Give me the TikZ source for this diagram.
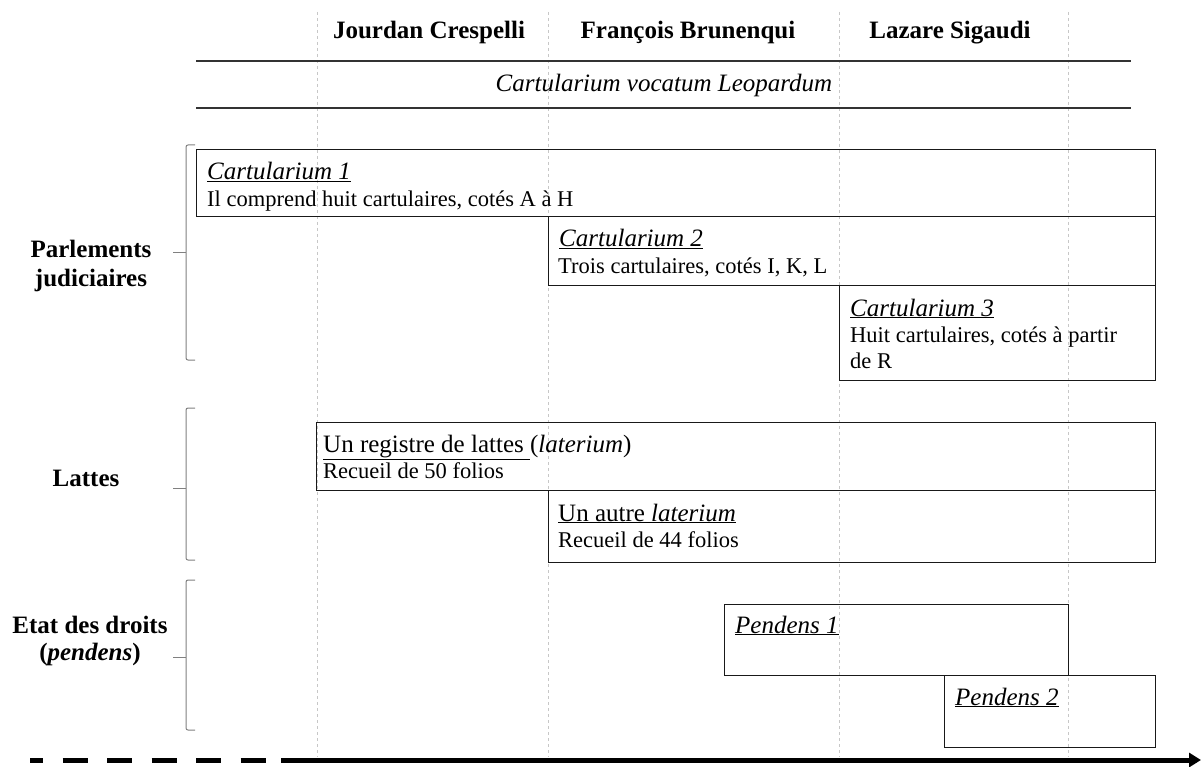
\documentclass[tikz,border=0pt]{standalone}
\usepackage{fontspec}
\setmainfont{Liberation Serif}
\usetikzlibrary{arrows.meta}
\tikzset{
  grid/.style={draw=black!22, line width=1pt, dash pattern=on 3pt off 3pt},
  rule/.style={draw=black!80, line width=1.5pt},
  box/.style={draw=black!90, line width=1.3pt, inner sep=0pt, anchor=north west},
  brk/.style={draw=black!50, line width=1pt, rounded corners=2pt},
  hdr/.style={font=\fontsize{25}{29}\selectfont\bfseries, inner sep=0pt, anchor=base},
  lbl/.style={font=\fontsize{25}{29}\selectfont\bfseries, inner sep=0pt, anchor=base},
  ttl/.style={font=\fontsize{25}{29}\selectfont\itshape, inner sep=0pt, anchor=base west},
  txt/.style={font=\fontsize{22.5}{26}\selectfont, inner sep=0pt, anchor=base west},
}
\begin{document}
\begin{tikzpicture}[x=1pt,y=-1pt]
\useasboundingbox (0,0) rectangle (1201,767);
% grid lines
\foreach \gx/\gn in {317/ga,548/gb,839/gc,1068/gd}{
  \coordinate (\gn top) at (\gx,12);
  \coordinate (\gn bot) at (\gx,757);
  \draw[grid] (\gn top) -- (\gn bot);
}
% boxes
\node[box, minimum width=959pt, minimum height=67pt] (c1) at (196,149) {};
\node[box, minimum width=607pt, minimum height=69pt] (c2) at (548,216) {};
\node[box, minimum width=316pt, minimum height=95pt] (c3) at (839,285) {};
\node[box, minimum width=839pt, minimum height=68pt] (l1) at (316,422) {};
\node[box, minimum width=607pt, minimum height=72pt] (l2) at (548,490) {};
\node[box, minimum width=344pt, minimum height=71pt] (p1) at (724,604) {};
\node[box, minimum width=211pt, minimum height=72pt] (p2) at (944,675) {};
% header
\node[hdr] (h1) at (429,39) {Jourdan Crespelli};
\node[hdr] (h2) at (688,39) {François Brunenqui};
\node[hdr] (h3) at (950,39) {Lazare Sigaudi};
\coordinate (r1a) at (196,61); \coordinate (r1b) at (1131,61);
\coordinate (r2a) at (196,108); \coordinate (r2b) at (1131,108);
\draw[rule] (r1a) -- (r1b);
\draw[rule] (r2a) -- (r2b);
\node[font=\fontsize{25}{29}\selectfont\itshape, inner sep=0pt, anchor=base] (leo) at (664,92) {Cartularium vocatum Leopardum};
% box texts
\node[ttl] (c1t) at (207,180) {\underline{Cartularium 1}};
\node[txt] (c1b) at (207,207) {Il comprend huit cartulaires, cotés A à H};
\node[ttl] (c2t) at (559,247) {\underline{Cartularium 2}};
\node[txt] (c2b) at (558,273) {Trois cartulaires, cotés I, K, L};
\node[ttl] (c3t) at (850,316) {\underline{Cartularium 3}};
\node[txt] (c3b) at (850,342) {Huit cartulaires, cotés à partir};
\node[txt] (c3c) at (850,368) {de R};
\node[txt, font=\fontsize{25}{29}\selectfont] (l1t) at (323,452) {\underline{Un registre de lattes }(\textit{laterium})};
\node[txt] (l1b) at (323,478) {Recueil de 50 folios};
\node[txt, font=\fontsize{25}{29}\selectfont] (l2t) at (558,521) {\underline{Un autre \textit{laterium}}};
\node[txt] (l2b) at (558,547) {Recueil de 44 folios};
\node[ttl] (p1t) at (735,633) {\underline{Pendens 1}};
\node[ttl] (p2t) at (955,705) {\underline{Pendens 2}};
% brackets
\draw[brk] (195,145) -- (186,145) -- (186,360) -- (195,360);
\draw[brk] (186,253) -- (173,253);
\draw[brk] (195,408) -- (186,408) -- (186,560) -- (195,560);
\draw[brk] (186,488) -- (173,488);
\draw[brk] (195,580) -- (186,580) -- (186,730) -- (195,730);
\draw[brk] (186,657) -- (173,657);
% labels
\node[lbl] (pj1) at (91,258) {Parlements};
\node[lbl] (pj2) at (91,286) {judiciaires};
\node[lbl] (lat) at (86,486) {Lattes};
\node[lbl] (ed1) at (90,633) {Etat des droits};
\node[lbl] (ed2) at (90,660) {(\textit{pendens})};
% time arrow
\coordinate (a0) at (30,760);
\coordinate (a1) at (281,760);
\coordinate (a2) at (1201,760);
\draw[line width=5pt, dash pattern=on 25pt off 19.5pt, dash phase=12pt] (a0) -- (a1);
\draw[line width=5pt, -{Triangle[length=12pt,width=14pt]}] (a1) -- (a2);
\end{tikzpicture}
\end{document}
